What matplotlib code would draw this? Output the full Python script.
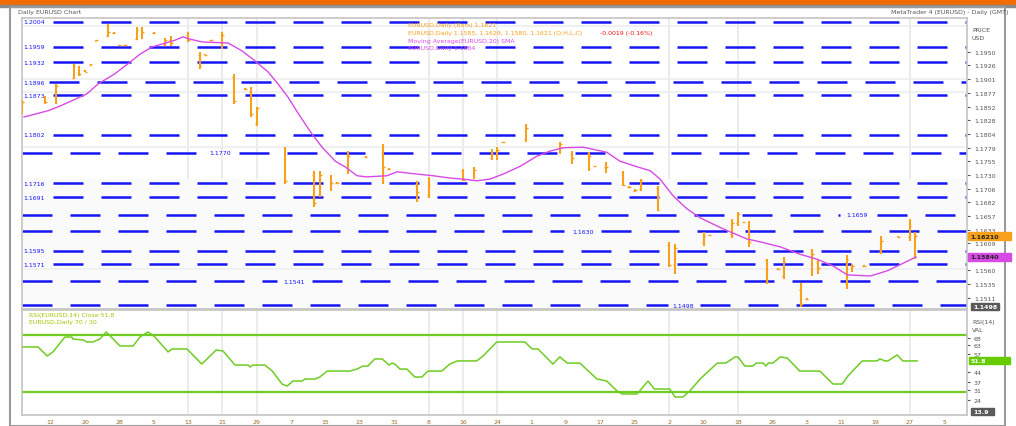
import matplotlib
matplotlib.use("Agg")
import matplotlib.pyplot as plt
from matplotlib.patches import Rectangle

plt.rcParams['lines.scale_dashes'] = False
plt.rcParams['font.family'] = ['DejaVu Sans']

# ---------------- data ----------------
bar_idx = [0, 4, 6, 9, 10, 11, 12, 13, 15, 16, 17, 18, 20, 21, 23, 25, 26, 29, 31, 32,
           33, 35, 37, 39, 40, 41, 46, 51, 52, 54, 55, 57, 60, 63, 64, 69, 71, 77, 79, 82,
           83, 84, 88, 94, 96, 99, 100, 102, 105, 106, 107, 108, 111, 113, 114, 119, 120, 124, 125, 126,
           127, 130, 132, 133, 136, 137, 138, 139, 144, 145, 147, 150, 153, 155, 156]
bar_high = [1.1864, 1.1871, 1.1893, 1.1929, 1.1925, 1.1918, 1.1928, 1.1972, 1.2000, 1.1985, 1.1963, 1.1963, 1.1995, 1.1995, 1.1985, 1.1975, 1.1979, 1.1986, 1.1950, 1.1946,
            1.1972, 1.1986, 1.1911, 1.1885, 1.1888, 1.1852, 1.1780, 1.1738, 1.1738, 1.1730, 1.1717, 1.1773, 1.1764, 1.1786, 1.1742, 1.1720, 1.1727, 1.1741, 1.1745, 1.1777,
            1.1780, 1.1790, 1.1821, 1.1789, 1.1773, 1.1771, 1.1747, 1.1754, 1.1738, 1.1710, 1.1705, 1.1723, 1.1711, 1.1611, 1.1607, 1.1629, 1.1624, 1.1652, 1.1664, 1.1647,
            1.1648, 1.1580, 1.1564, 1.1584, 1.1538, 1.1510, 1.1598, 1.1580, 1.1588, 1.1571, 1.1569, 1.1621, 1.1621, 1.1652, 1.1629]
bar_low = [1.1839, 1.1857, 1.1857, 1.1902, 1.1907, 1.1914, 1.1926, 1.1970, 1.1977, 1.1983, 1.1961, 1.1961, 1.1971, 1.1973, 1.1983, 1.1961, 1.1961, 1.1968, 1.1920, 1.1944,
           1.1970, 1.1955, 1.1857, 1.1883, 1.1834, 1.1818, 1.1714, 1.1673, 1.1691, 1.1702, 1.1715, 1.1732, 1.1762, 1.1714, 1.1740, 1.1682, 1.1689, 1.1720, 1.1723, 1.1757,
           1.1757, 1.1788, 1.1789, 1.1768, 1.1750, 1.1738, 1.1745, 1.1734, 1.1711, 1.1708, 1.1700, 1.1702, 1.1666, 1.1566, 1.1554, 1.1604, 1.1622, 1.1618, 1.1639, 1.1645,
           1.1602, 1.1536, 1.1562, 1.1545, 1.1495, 1.1508, 1.1550, 1.1554, 1.1527, 1.1557, 1.1567, 1.1589, 1.1619, 1.1613, 1.1580]
bar_open = [1.1842, 1.1869, 1.1860, 1.1904, 1.1922, 1.1917, 1.1926, 1.1970, 1.1979, 1.1984, 1.1962, 1.1962, 1.1973, 1.1990, 1.1984, 1.1963, 1.1972, 1.1980, 1.1945, 1.1945,
            1.1971, 1.1960, 1.1905, 1.1884, 1.1880, 1.1822, 1.1775, 1.1730, 1.1695, 1.1725, 1.1716, 1.1735, 1.1763, 1.1770, 1.1741, 1.1715, 1.1695, 1.1738, 1.1726, 1.1760,
            1.1765, 1.1789, 1.1795, 1.1780, 1.1768, 1.1768, 1.1746, 1.1745, 1.1735, 1.1709, 1.1701, 1.1705, 1.1708, 1.1605, 1.1570, 1.1610, 1.1623, 1.1625, 1.1645, 1.1646,
            1.1640, 1.1578, 1.1563, 1.1550, 1.1525, 1.1509, 1.1555, 1.1575, 1.1535, 1.1560, 1.1568, 1.1595, 1.1620, 1.1620, 1.1585]
bar_close = [1.1860, 1.1860, 1.1889, 1.1925, 1.1910, 1.1915, 1.1928, 1.1972, 1.1986, 1.1984, 1.1962, 1.1962, 1.1990, 1.1985, 1.1984, 1.1972, 1.1966, 1.1971, 1.1925, 1.1945,
             1.1971, 1.1980, 1.1862, 1.1884, 1.1840, 1.1850, 1.1720, 1.1680, 1.1730, 1.1716, 1.1716, 1.1765, 1.1763, 1.1745, 1.1741, 1.1700, 1.1712, 1.1722, 1.1740, 1.1770,
             1.1775, 1.1789, 1.1815, 1.1785, 1.1760, 1.1765, 1.1746, 1.1745, 1.1713, 1.1709, 1.1704, 1.1722, 1.1667, 1.1570, 1.1600, 1.1622, 1.1623, 1.1645, 1.1660, 1.1646,
             1.1610, 1.1540, 1.1563, 1.1575, 1.1500, 1.1509, 1.1590, 1.1565, 1.1580, 1.1568, 1.1568, 1.1612, 1.1620, 1.1640, 1.1621]

ma_x = [0.35, 4.5, 6.3, 8.7, 11.3, 13.3, 16.2, 18.5, 20.6, 22.7, 24.4, 26.7, 28.1, 29.3, 31.4, 36.0, 38.4, 40.7, 43.0, 44.7,
        46.4, 48.5, 50.6, 52.4, 54.7, 56.4, 58.5, 60.2, 63.7, 65.5, 69.0, 71.8, 74.7, 77.0, 79.4, 81.7, 84.0, 87.0, 89.9, 92.2,
        94.5, 98.0, 102.1, 104.4, 107.4, 109.7, 111.4, 113.7, 116.1, 118.4, 121.4, 123.6, 126.6, 128.9, 132.4, 135.8, 138.8, 141.6, 144.1, 148.1,
        151.0, 153.3, 156.1]
ma_val = [1.1834, 1.1845, 1.1852, 1.1863, 1.1875, 1.1893, 1.1911, 1.1929, 1.1946, 1.1959, 1.1964, 1.1971, 1.1977, 1.1973, 1.1968, 1.1966, 1.1952, 1.1934, 1.1914, 1.1893,
          1.1870, 1.1836, 1.1804, 1.1780, 1.1755, 1.1745, 1.1729, 1.1727, 1.1729, 1.1736, 1.1732, 1.1729, 1.1725, 1.1723, 1.1720, 1.1723, 1.1732, 1.1746, 1.1764, 1.1773,
          1.1779, 1.1780, 1.1771, 1.1755, 1.1745, 1.1738, 1.1723, 1.1693, 1.1670, 1.1654, 1.1639, 1.1629, 1.1616, 1.1611, 1.1602, 1.1589, 1.1580, 1.1568, 1.1552, 1.1550,
          1.1559, 1.1570, 1.1584]

osc_x = [0.2, 2.8, 4.4, 5.4, 7.5, 8.7, 8.9, 10.7, 11.3, 12.4, 13.6, 14.7, 15.4, 17.1, 19.4, 20.6, 22.0, 23.2, 25.5, 26.2,
         28.8, 31.4, 33.9, 35.1, 37.2, 39.5, 39.8, 40.3, 42.4, 43.7, 45.4, 46.3, 47.3, 48.9, 49.4, 51.2, 52.0, 53.3, 57.3, 58.5,
         59.5, 60.4, 61.6, 62.9, 64.1, 64.6, 65.1, 66.0, 67.2, 68.6, 69.8, 70.9, 73.3, 74.7, 76.0, 79.4, 80.5, 82.9, 87.8, 89.1,
         90.1, 92.7, 93.9, 95.2, 97.4, 100.4, 102.1, 103.9, 104.8, 107.4, 109.3, 110.4, 113.1, 114.0, 115.4, 116.6, 118.4, 121.4, 122.9, 124.5,
         125.0, 126.2, 127.6, 128.2, 129.4, 129.9, 130.3, 131.1, 132.4, 133.6, 135.8, 139.3, 141.6, 143.2, 144.2, 146.7, 149.3, 149.8, 150.7, 151.2,
         152.8, 153.8, 156.3]
osc_val = [61.6, 61.6, 55.3, 58.1, 68.6, 68.6, 67.2, 66.5, 65.1, 65.1, 67.2, 72.1, 69.3, 62.3, 62.3, 68.6, 72.1, 68.6, 58.1, 60.2,
           60.2, 49.6, 59.5, 58.8, 48.9, 48.9, 47.5, 48.9, 48.9, 44.7, 35.6, 34.2, 37.7, 37.7, 39.1, 39.1, 40.5, 44.7, 44.7, 46.1,
           48.2, 48.2, 53.2, 53.2, 48.9, 50.3, 49.6, 46.1, 46.1, 40.5, 40.5, 44.7, 44.7, 49.6, 51.8, 51.8, 55.3, 65.1, 65.1, 60.2,
           60.2, 49.6, 54.6, 50.3, 50.3, 39.1, 37.7, 30.7, 28.6, 28.6, 37.7, 32.1, 32.1, 26.5, 26.5, 30.7, 39.1, 50.3, 50.3, 54.6,
           54.6, 48.2, 48.2, 50.3, 50.3, 48.2, 50.3, 50.3, 54.6, 53.9, 44.7, 44.7, 35.6, 35.6, 41.2, 51.8, 51.8, 53.2, 51.8, 51.8,
           56.0, 51.8, 51.8]
osc_levels = [70, 30]

level_prices = [1.2004, 1.1959, 1.1932, 1.1896, 1.1873, 1.1802, 1.1770, 1.1716, 1.1691, 1.1659,
                1.1630, 1.1595, 1.1571, 1.1541, 1.1498]

price_ticks = [1.1950, 1.1926, 1.1901, 1.1877, 1.1852, 1.1828, 1.1804, 1.1779, 1.1755, 1.1730,
               1.1706, 1.1682, 1.1657, 1.1633, 1.1609, 1.1584, 1.1560, 1.1535, 1.1511]
osc_ticks = [67.9, 63.0, 56.7, 44.0, 37.0, 31.4, 24.4]
osc_tick_labels = ["68", "63", "57", "44", "37", "31", "24"]

xtick_idx = [5, 11, 17, 23, 29, 35, 41, 47, 53, 59, 65, 71, 77, 83, 89, 95, 101, 107, 113, 119,
             125, 131, 137, 143, 149, 155, 161]
xtick_labels = ["12", "20", "28", "5", "13", "21", "29", "7", "15", "23", "31", "8", "16", "24", "1", "9", "17", "25", "2", "10",
                "18", "26", "3", "11", "19", "27", "5"]
grid_idx = [29, 35, 41, 71, 77, 83, 113, 125, 155]

# ---------------- layout helpers ----------------
W, H = 1016, 427
XMAX = 165.0
P_TOP, P_BOT = 1.201071, 1.149107
O_TOP, O_BOT = 87.54, 13.86


def fx(px):
    return px / W


def fy(py):
    return 1 - py / H


def px2x(px):
    return (px - 22) / 945.0 * XMAX


# level layout: ('left', start_px) or ('mid', seg1_end, label_px, seg2_start)
level_layout = [('left', 53), ('left', 53), ('left', 53), ('left', 49), ('left', 53), ('left', 53),
                ('mid', 207, 209, 239), ('left', 53), ('left', 53), ('mid', 840, 846, 877),
                ('mid', 564, 572, 601), ('left', 53), ('left', 53), ('mid', 277, 283, 312), ('mid', 668, 672, 700)]

ORANGE = '#f7a11a'
MAGENTA = '#d84ae6'
BLUE = '#1616f5'
GREEN = '#6fcc22'
DASH = (0, (21.6, 12.96))

fig = plt.figure(figsize=(W / 100, H / 100), dpi=100)
fig.patch.set_facecolor('white')

# top orange band and frame
fig.patches.append(Rectangle((0, fy(5)), 1, 5 / H, transform=fig.transFigure, color='#f26b00', zorder=0))
fig.patches.append(Rectangle((0, fy(7.5)), 1, 2 / H, transform=fig.transFigure, color='#8a8a8a', zorder=0))
fig.patches.append(Rectangle((fx(9.5), 0), fx(1005) - fx(9.5), fy(7.5), transform=fig.transFigure,
                             fill=False, ec='#9a9a9a', lw=1.5, zorder=0))

ax1 = fig.add_axes([fx(22), fy(310), fx(967) - fx(22), (310 - 19) / H])
ax2 = fig.add_axes([fx(22), fy(416), fx(967) - fx(22), (416 - 311) / H])

for ax in (ax1, ax2):
    ax.set_xlim(0, XMAX)
    for s in ax.spines.values():
        s.set_color('#c4c4c4')
        s.set_linewidth(1.2)
    ax.vlines(grid_idx, 0, 1, transform=ax.get_xaxis_transform(), color='#ececec', lw=1.4, zorder=0)

ax1.set_ylim(P_BOT, P_TOP)
ax2.set_ylim(O_BOT, O_TOP)

# faint background band / grid in price panel
ax1.axhspan(P_BOT, 1.17232, color='#fafafa', zorder=0, lw=0)
for gp in [1.19964, 1.19018, 1.18786, 1.17804, 1.15625]:
    ax1.axhline(gp, color='#eeeeee', lw=1.2, zorder=0)

# level lines
for p, lay in zip(level_prices, level_layout):
    lab = f"{p:.4f}"
    if lay[0] == 'left':
        ax1.plot([px2x(lay[1]), XMAX], [p, p], color=BLUE, lw=1.8, linestyle=DASH,
                 dash_capstyle='butt', zorder=2)
        ax1.text(px2x(23), p, lab, fontsize=4.5, color=BLUE, ha='left', va='center', zorder=3)
    else:
        _, e1, lx, s2 = lay
        ax1.plot([px2x(22), px2x(e1)], [p, p], color=BLUE, lw=1.8, linestyle=DASH,
                 dash_capstyle='butt', zorder=2)
        ax1.plot([px2x(s2), XMAX], [p, p], color=BLUE, lw=1.8, linestyle=DASH,
                 dash_capstyle='butt', zorder=2)
        ax1.text(px2x(lx), p, lab, fontsize=4.5, color=BLUE, ha='left', va='center', zorder=3)

# OHLC bars
ax1.vlines(bar_idx, bar_low, bar_high, color=ORANGE, lw=1.5, zorder=4)
ax1.hlines(bar_open, [i - 0.3 for i in bar_idx], bar_idx, color=ORANGE, lw=1.0, zorder=4)
ax1.hlines(bar_close, bar_idx, [i + 0.3 for i in bar_idx], color=ORANGE, lw=1.0, zorder=4)

# moving average
ax1.plot(ma_x, ma_val, color=MAGENTA, lw=1.0, zorder=5)

last_close = bar_close[-1]
last_ma = ma_val[-1]
last_osc = osc_val[-1]

ax1.set_xticks([])
ax1.yaxis.tick_right()
ax1.set_yticks(price_ticks)
ax1.set_yticklabels(["" if abs(v - last_ma) < 0.0008 else f"{v:.4f}" for v in price_ticks])
ax1.tick_params(axis='y', labelsize=4.5, length=2, width=0.8, colors='#555555', pad=3)

# oscillator panel
for lv in osc_levels:
    ax2.axhline(lv, color=GREEN, lw=1.6, zorder=2)
ax2.plot(osc_x, osc_val, color=GREEN, lw=1.1, zorder=3)
ax2.yaxis.tick_right()
ax2.set_yticks(osc_ticks)
ax2.set_yticklabels(osc_tick_labels)
ax2.tick_params(axis='y', labelsize=4.5, length=2, width=0.8, colors='#555555', pad=3)
ax2.set_xticks(xtick_idx)
ax2.set_xticklabels(xtick_labels)
ax2.tick_params(axis='x', labelsize=4.5, length=0, colors='#9a6a2a', pad=3)


def value_box(ax, val, text, fc, tc, x0=968, x1=1011, h=8):
    disp = ax.transData.transform((0, val))
    ypx = H - disp[1]
    fig.patches.append(Rectangle((fx(x0), fy(ypx + h / 2)), fx(x1) - fx(x0), h / H,
                                 transform=fig.transFigure, color=fc, zorder=5))
    fig.text(fx(x0 + 2), fy(ypx), text, fontsize=4.5, color=tc, ha='left', va='center', zorder=6,
             fontweight='bold')


value_box(ax1, last_close, f"{last_close:.5f}", ORANGE, '#222222')
value_box(ax1, last_ma, f"{last_ma:.5f}", MAGENTA, '#222222')
value_box(ax1, P_BOT + 0.0005, f"{level_prices[-1]:.4f}", '#5a5a5a', 'white', x0=971, x1=999, h=7)
value_box(ax2, last_osc, f"{last_osc:.1f}", '#66cc00', 'white', x0=969, x1=1010, h=7)
value_box(ax2, O_BOT + 2.5, f"{O_BOT:.1f}", '#5a5a5a', 'white', x0=971, x1=994, h=7)

# texts
fig.text(fx(18), fy(12.5), "Daily EURUSD Chart", fontsize=4.5, color='#555555', ha='left', va='center')
fig.text(fx(1008), fy(12.5), "MetaTrader 4 (EURUSD) - Daily (GMT)", fontsize=4.5, color='#555555',
         ha='right', va='center')
fig.text(fx(972), fy(31), "PRICE", fontsize=4.5, color='#555555', ha='left', va='center')
fig.text(fx(972), fy(38.5), "USD", fontsize=4.5, color='#555555', ha='left', va='center')
fig.text(fx(972), fy(323), "RSI(14)", fontsize=4.5, color='#555555', ha='left', va='center')
fig.text(fx(972), fy(331), "VAL", fontsize=4.5, color='#555555', ha='left', va='center')

fig.text(fx(408), fy(26), f"EURUSD,Daily (Bars) {last_close:.4f}", fontsize=4.5, color=ORANGE,
         ha='left', va='center')
fig.text(fx(408), fy(33.5),
         f"EURUSD,Daily {bar_open[-1]:.4f}, {bar_high[-1]:.4f}, {bar_low[-1]:.4f}, {bar_close[-1]:.4f} (O,H,L,C)",
         fontsize=4.5, color=ORANGE, ha='left', va='center')
chg = bar_close[-1] - bar_close[-2]
fig.text(fx(600), fy(33.5), f"{chg:+.4f} ({chg / bar_close[-2] * 100:+.2f}%)", fontsize=4.5, color='#ee1111',
         ha='left', va='center')
fig.text(fx(408), fy(41), "Moving Average(EURUSD,20) SMA", fontsize=4.5, color=MAGENTA, ha='left', va='center')
fig.text(fx(408), fy(48.5), f"EURUSD,Daily {last_ma:.4f}", fontsize=4.5, color=MAGENTA, ha='left', va='center')

fig.text(fx(29), fy(316), f"RSI(EURUSD,14) Close {last_osc:.1f}", fontsize=4.5, color='#a4c400',
         ha='left', va='center')
fig.text(fx(29), fy(323), "EURUSD,Daily 70 / 30", fontsize=4.5, color='#a4c400', ha='left', va='center')

fig.savefig("out.png", dpi=100)
